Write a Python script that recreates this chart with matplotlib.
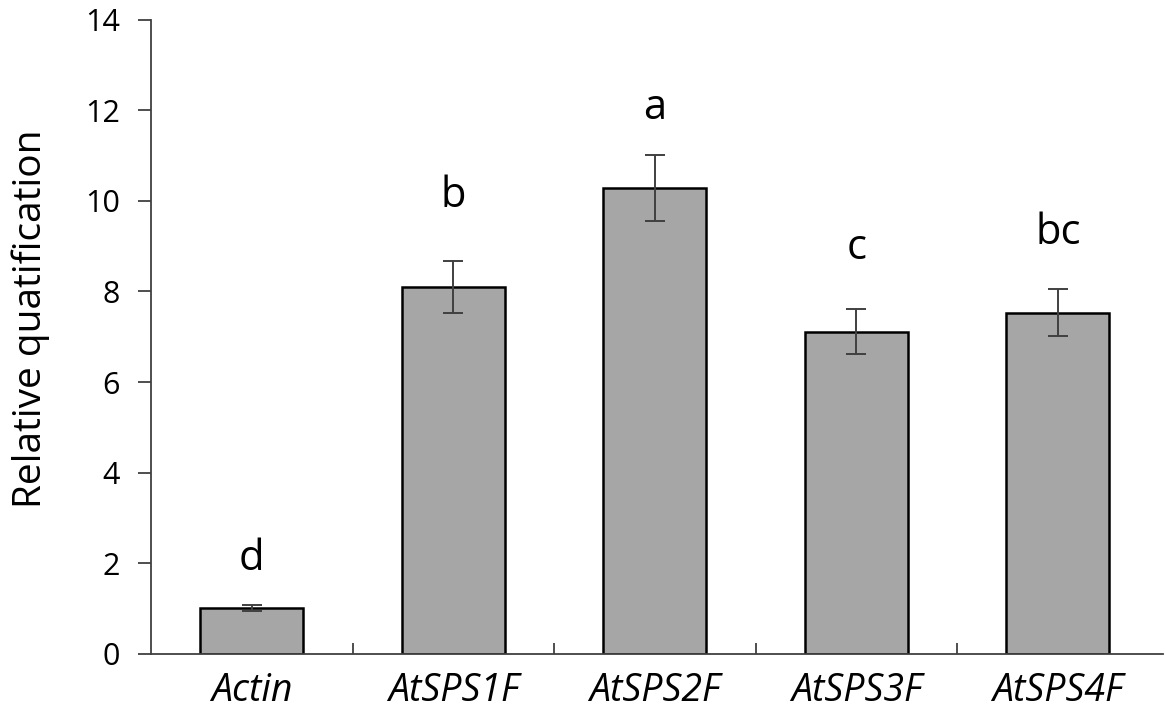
import numpy as np
import matplotlib.pyplot as plt

# data
genes = ["Actin", "AtSPS1F", "AtSPS2F", "AtSPS3F", "AtSPS4F"]
rel_quant = [1.02, 8.10, 10.29, 7.11, 7.53]
err = [0.07, 0.58, 0.73, 0.50, 0.52]
letters = ["d", "b", "a", "c", "bc"]
letter_y = [2.1, 10.1, 12.05, 8.96, 9.3]

plt.rcParams['font.family'] = ['Open Sans', 'DejaVu Sans']

fig = plt.figure(figsize=(11.65, 7.26), dpi=100)
ax = fig.add_axes([0.1296, 0.0992, 0.8684, 0.8738])

x = np.arange(len(genes))
ax.bar(x, rel_quant, width=0.51, color="#a6a6a6", edgecolor="black", linewidth=1.8, zorder=2)
ax.errorbar(x, rel_quant, yerr=err, fmt="none", ecolor="#404040", elinewidth=1.4,
            capsize=7.5, capthick=1.4, zorder=3)

for xi, lab, ly in zip(x, letters, letter_y):
    ax.text(xi, ly, lab, ha="center", va="center", fontsize=30, color="black")

ax.set_xlim(-0.5, len(genes) - 0.5 + 0.02)
ax.set_ylim(0, 14)
ax.set_yticks(np.arange(0, 15, 2))

# boundary ticks pointing up, labels in the middle
ax.set_xticks(np.arange(0.5, len(genes) - 0.5, 1))
ax.set_xticklabels([])
ax.tick_params(axis="x", which="major", direction="in", length=8, width=1.3, color="#404040")
ax.set_xticks(x, minor=True)
ax.set_xticklabels(genes, minor=True, fontsize=27, style="italic")
ax.tick_params(axis="x", which="minor", length=0, pad=13)
ax.tick_params(axis="y", direction="out", length=9.5, width=1.3, color="#404040",
               labelsize=22, pad=13)

for s in ["top", "right"]:
    ax.spines[s].set_visible(False)
for s in ["left", "bottom"]:
    ax.spines[s].set_color("#404040")
    ax.spines[s].set_linewidth(1.3)

fig.text(31 / 1165, 1 - 319 / 726, "Relative quatification", rotation=90,
         ha="center", va="center", fontsize=28)

fig.savefig("out.png", dpi=100)
